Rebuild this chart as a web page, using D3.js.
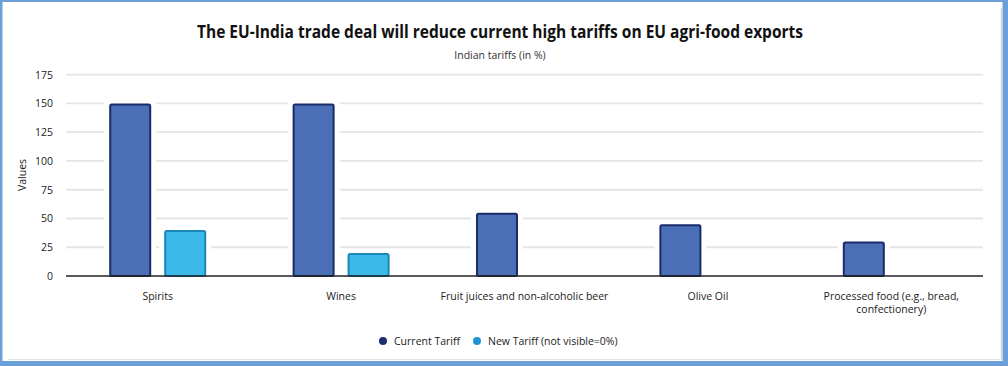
<!DOCTYPE html>
<html><head><meta charset="utf-8">
<script src="https://cdn.jsdelivr.net/npm/d3@7"></script>
<style>
html,body{margin:0;padding:0;background:#fff;}
svg{display:block;font-family:"Open Sans","Noto Sans",sans-serif;}
</style></head><body>
<svg id="c" width="1008" height="366"></svg>
<script>
const categories = ["Spirits","Wines","Fruit juices and non-alcoholic beer","Olive Oil","Processed food (e.g., bread, confectionery)"];
const currentTariff = [150,150,55,45,30];
const newTariff = [40,20,0,0,0];
const seriesNames = ["Current Tariff","New Tariff (not visible=0%)"];
const yTicks = [0,25,50,75,100,125,150,175];

const svg = d3.select("#c");
const W = 1008, H = 366;
// frame
svg.append("rect").attr("x",0).attr("y",0).attr("width",W).attr("height",H).attr("fill","#6a9fd8");
svg.append("rect").attr("x",2.5).attr("y",2).attr("width",W-8).attr("height",H-7).attr("fill","#fff");
svg.append("line").attr("x1",1001.5).attr("x2",1001.5).attr("y1",8).attr("y2",359).attr("stroke","#d4d4d4").attr("stroke-width",1.5);
svg.append("line").attr("x1",8).attr("x2",1001).attr("y1",359.5).attr("y2",359.5).attr("stroke","#e4e4e4").attr("stroke-width",1);

const x0 = d3.scaleBand().domain(categories).range([66,983]).paddingInner(0).paddingOuter(0);
const groupW = 97;
const x1 = d3.scaleBand().domain(seriesNames).range([(x0.bandwidth()-groupW)/2,(x0.bandwidth()+groupW)/2]).paddingInner(0.236).paddingOuter(0);
const y = d3.scaleLinear().domain([0,175]).range([276,74.7]);

// title
svg.append("text").attr("x",500).attr("y",38).attr("text-anchor","middle")
  .attr("font-size",17).attr("font-weight","bold").attr("fill","#111")
  .attr("textLength",606).attr("lengthAdjust","spacingAndGlyphs")
  .text("The EU-India trade deal will reduce current high tariffs on EU agri-food exports");
svg.append("text").attr("x",500).attr("y",59).attr("text-anchor","middle")
  .attr("font-size",10.5).attr("fill","#333")
  .text("Indian tariffs (in %)");

// grid
svg.append("g").selectAll("line").data(yTicks.filter(d=>d>0)).join("line")
  .attr("x1",66).attr("x2",983).attr("y1",d=>y(d)).attr("y2",d=>y(d))
  .attr("stroke","#e5e5e5").attr("stroke-width",1.8);

// y axis labels
const yAxis = d3.axisLeft(y).tickValues(yTicks).tickSize(0).tickPadding(0);
const ya = svg.append("g").attr("transform","translate(53,0)").call(yAxis);
ya.select(".domain").remove();
ya.selectAll("text").attr("font-size",10.5).attr("fill","#222").attr("font-family","'Open Sans','Noto Sans',sans-serif");

svg.append("text").attr("transform","translate(26,175) rotate(-90)").attr("text-anchor","middle")
  .attr("font-size",10.5).attr("fill","#222").text("Values");

// bars
const data = categories.map((c,i)=>({cat:c, vals:[{s:seriesNames[0],v:currentTariff[i]},{s:seriesNames[1],v:newTariff[i]}]}));
const fills = {[seriesNames[0]]:"#4a6fb6",[seriesNames[1]]:"#3bb9e9"};
const strokes = {[seriesNames[0]]:"#1a2c68",[seriesNames[1]]:"#1b86b8"};
const groups = svg.append("g").selectAll("g").data(data).join("g").attr("transform",d=>`translate(${x0(d.cat)},0)`);
groups.selectAll("rect.halo").data(d=>d.vals.filter(v=>v.v>0)).join("rect").attr("class","halo")
  .attr("x",d=>x1(d.s)-5).attr("width",x1.bandwidth()+10)
  .attr("y",d=>y(d.v)-3).attr("height",d=>y(0)-y(d.v)+3).attr("fill","#fff");
groups.selectAll("rect.bar").data(d=>d.vals.filter(v=>v.v>0)).join("rect").attr("class","bar")
  .attr("x",d=>x1(d.s)+1).attr("width",x1.bandwidth()-2)
  .attr("y",d=>y(d.v)+1).attr("height",d=>y(0)-y(d.v)-1)
  .attr("rx",1.5)
  .attr("fill",d=>fills[d.s]).attr("stroke",d=>strokes[d.s]).attr("stroke-width",2);

// baseline
svg.append("line").attr("x1",66).attr("x2",983).attr("y1",y(0)).attr("y2",y(0)).attr("stroke","#222").attr("stroke-width",1.5);

// x labels
const xl = svg.append("g").selectAll("text").data(categories).join("text")
  .attr("x",d=>x0(d)+x0.bandwidth()/2).attr("y",300).attr("text-anchor","middle")
  .attr("font-size",10.5).attr("fill","#222");
xl.each(function(d){
  const t = d3.select(this);
  if (d.startsWith("Processed")) {
    t.append("tspan").attr("x",x0(d)+x0.bandwidth()/2).attr("dy",0).text("Processed food (e.g., bread,");
    t.append("tspan").attr("x",x0(d)+x0.bandwidth()/2).attr("dy",13).text("confectionery)");
  } else t.text(d);
});

// legend
const legCol = {[seriesNames[0]]:"#1c2f6e",[seriesNames[1]]:"#1e95d2"};
const lx = [383, 477];
const leg = svg.append("g").selectAll("g").data(seriesNames).join("g").attr("transform",(d,i)=>`translate(${lx[i]},341)`);
leg.append("circle").attr("r",4).attr("fill",d=>legCol[d]);
leg.append("text").attr("x",11).attr("y",4).attr("font-size",10.5).attr("fill","#222").text(d=>d);
</script>
</body></html>
